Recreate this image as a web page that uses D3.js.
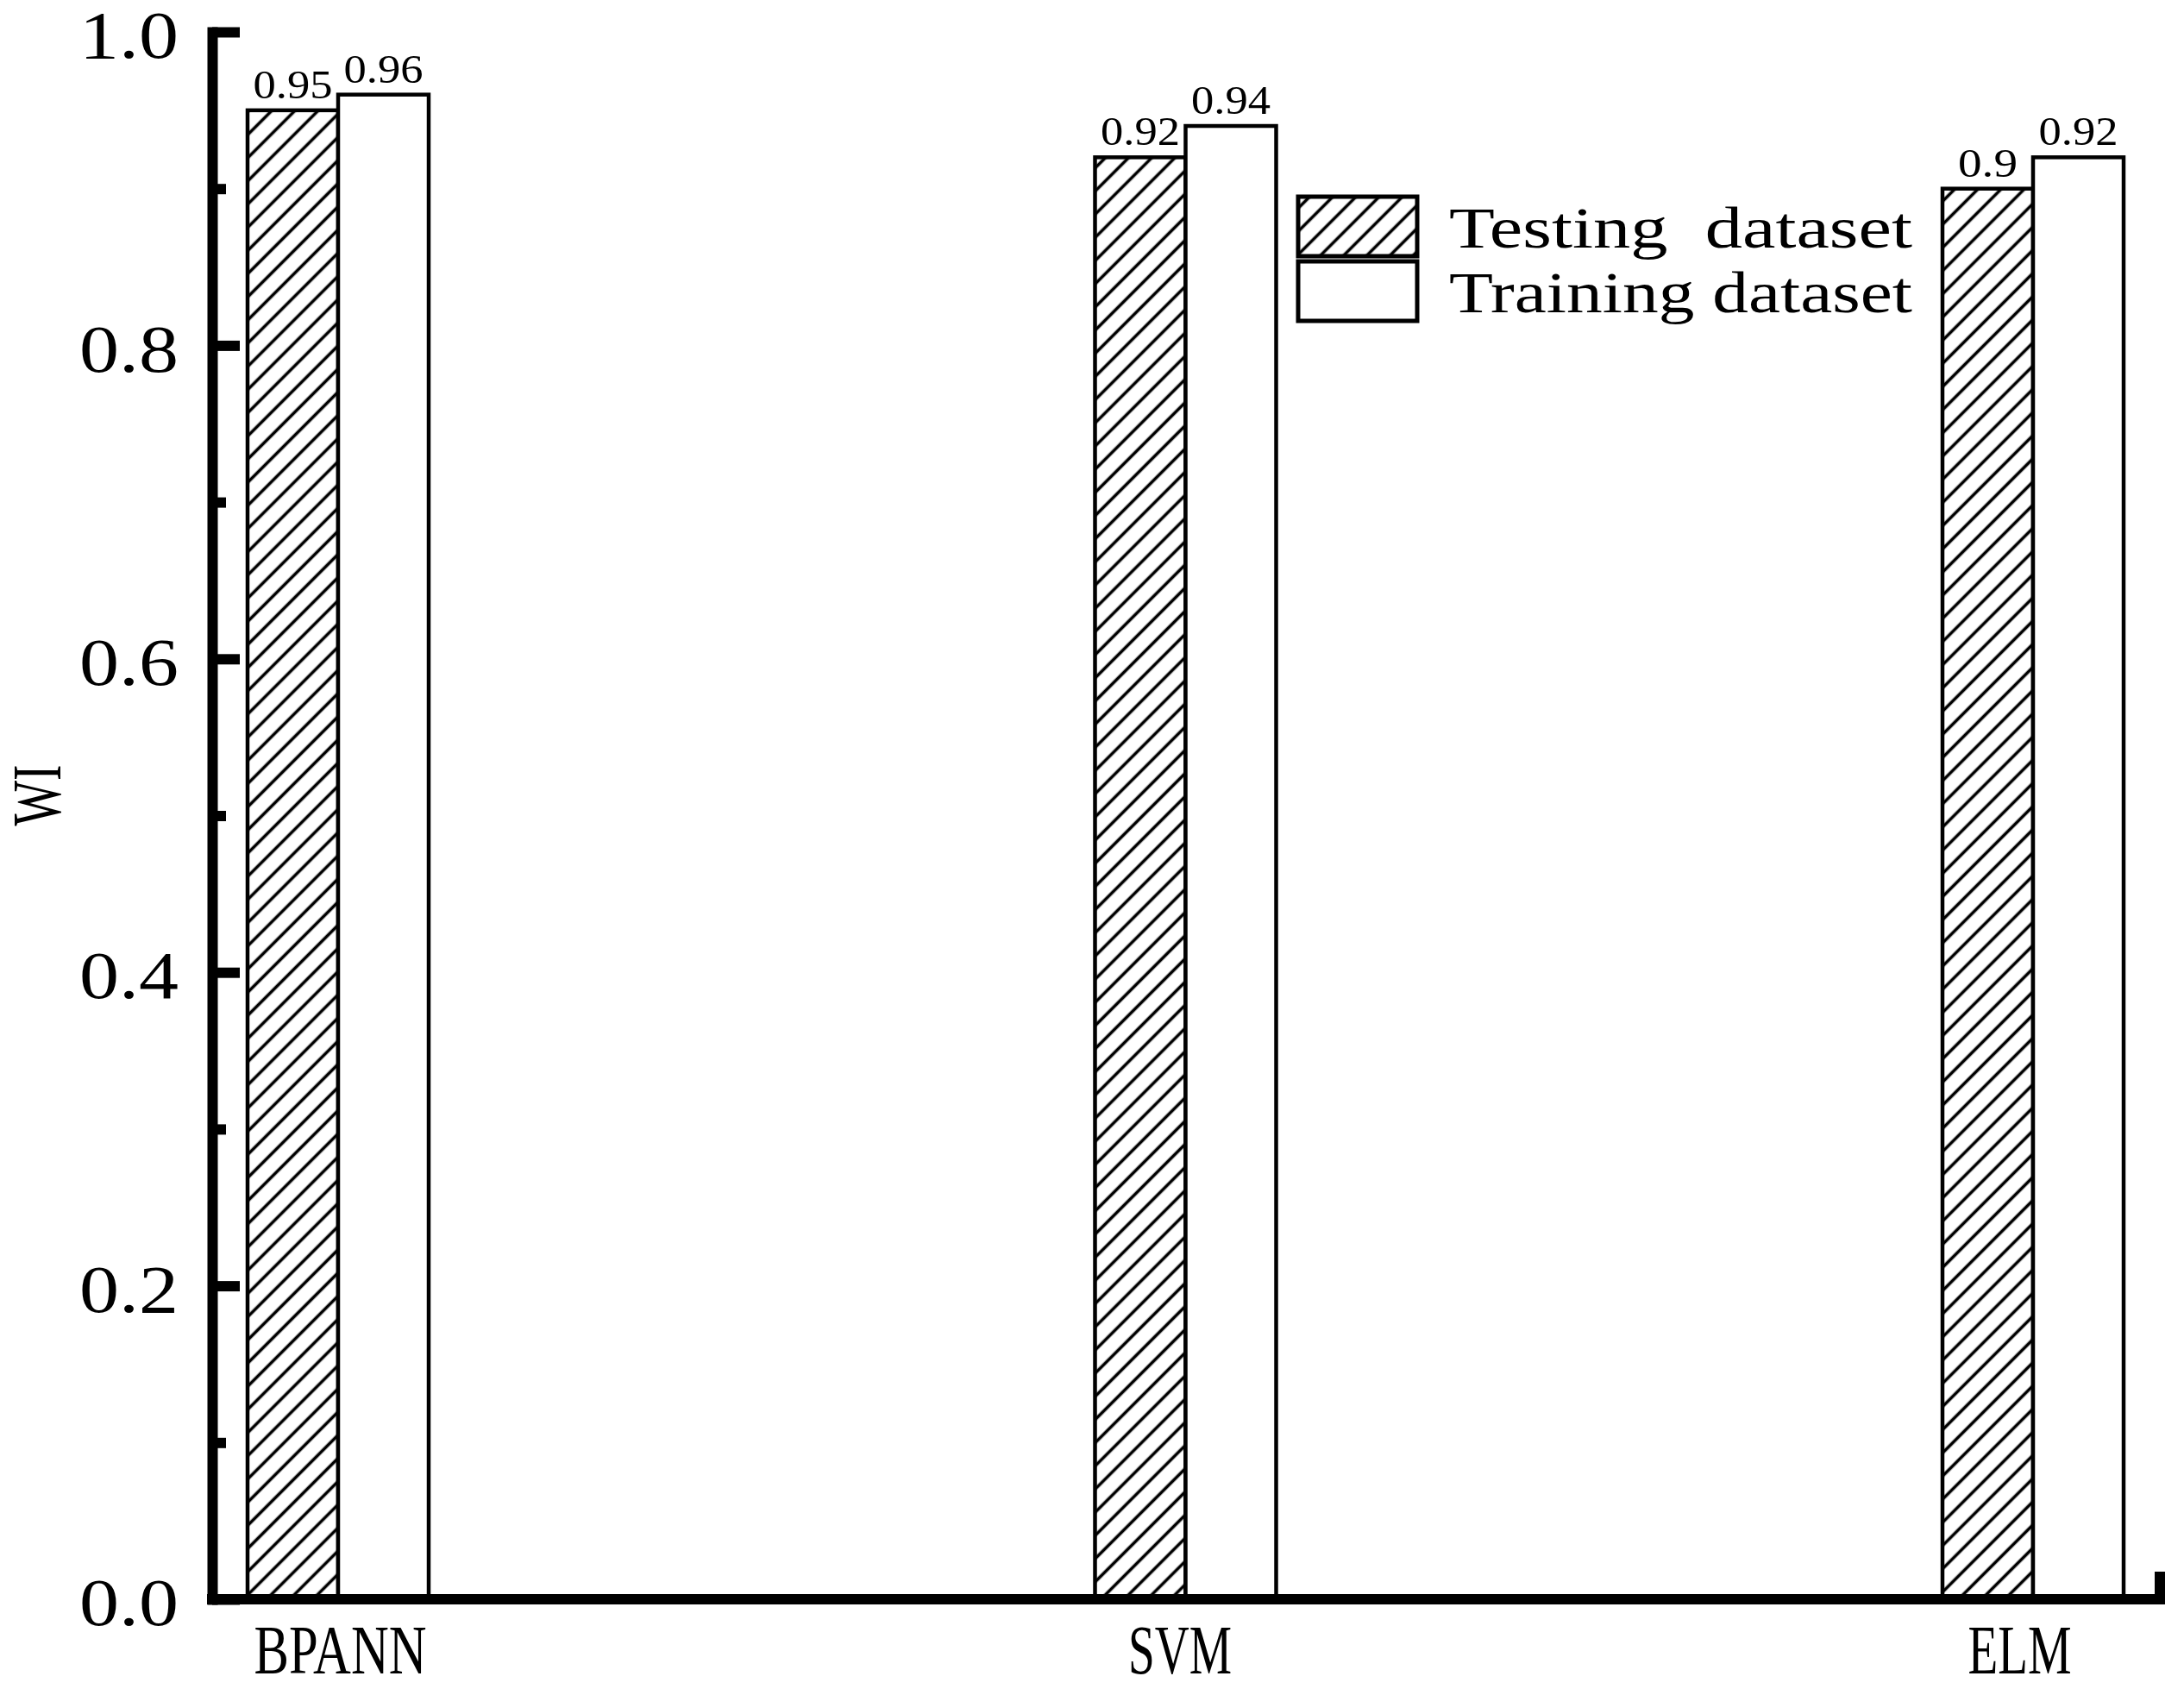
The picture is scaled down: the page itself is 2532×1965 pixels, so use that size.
<!DOCTYPE html>
<html>
<head>
<meta charset="utf-8">
<script src="https://cdn.jsdelivr.net/npm/d3@7"></script>
<style>
  html, body { margin: 0; padding: 0; background: #fff; }
  svg text { font-family: "Liberation Serif", "DejaVu Serif", serif; fill: #000; }
</style>
</head>
<body>
<div id="chart"></div>
<script>
// Data
const categories = ['BPANN', 'SVM', 'ELM'];
const testingValues = [0.95, 0.92, 0.90];
const trainingValues = [0.96, 0.94, 0.92];
const valueLabels = {
    testing: ['0.95', '0.92', '0.9'],
    training: ['0.96', '0.94', '0.92']
};
const seriesNames = ['Testing  dataset', 'Training dataset'];
const yMajorTicks = [0, 0.2, 0.4, 0.6, 0.8, 1.0];
const yMinorTicks = [0.1, 0.3, 0.5, 0.7, 0.9];
const yTitle = 'WI';

const W = 2532, H = 1965;
const axisLeftX = 246, axisRightX = 2504;
const barW = 105;

const svg = d3.select('#chart').append('svg')
    .attr('width', W)
    .attr('height', H);

svg.append('rect').attr('width', W).attr('height', H).attr('fill', '#fff');

// Hatch pattern ("/" lines)
const defs = svg.append('defs');
defs.append('pattern')
    .attr('id', 'hatch')
    .attr('patternUnits', 'userSpaceOnUse')
    .attr('width', 19)
    .attr('height', 19)
    .attr('patternTransform', 'rotate(45)')
    .append('line')
    .attr('x1', 9.5).attr('y1', 0)
    .attr('x2', 9.5).attr('y2', 19)
    .attr('stroke', '#000')
    .attr('stroke-width', 3.6);

const y = d3.scaleLinear().domain([0, 1]).range([1854, 37]);
const x = d3.scalePoint().domain(categories).range([392, 2357]);
// category text sits slightly left of the bar pairs in the original
const xLabel = d3.scalePoint().domain(categories).range([394, 2341]);

// Bars
const rows = categories.map((c, i) => ({
    cat: c,
    test: testingValues[i],
    train: trainingValues[i],
    testLabel: valueLabels.testing[i],
    trainLabel: valueLabels.training[i]
}));

const bars = svg.append('g').attr('class', 'bars');

bars.selectAll('rect.test')
    .data(rows)
    .enter().append('rect')
    .attr('class', 'test')
    .attr('x', d => x(d.cat) - barW)
    .attr('y', d => y(d.test))
    .attr('width', barW)
    .attr('height', d => y(0) - y(d.test))
    .attr('fill', 'url(#hatch)')
    .attr('stroke', '#000')
    .attr('stroke-width', 4.5);

bars.selectAll('rect.train')
    .data(rows)
    .enter().append('rect')
    .attr('class', 'train')
    .attr('x', d => x(d.cat))
    .attr('y', d => y(d.train))
    .attr('width', barW)
    .attr('height', d => y(0) - y(d.train))
    .attr('fill', '#fff')
    .attr('stroke', '#000')
    .attr('stroke-width', 4.5);

// Value labels
bars.selectAll('text.testLbl')
    .data(rows)
    .enter().append('text')
    .attr('class', 'testLbl')
    .attr('x', d => x(d.cat) - barW / 2)
    .attr('y', d => y(d.test) - 14)
    .attr('text-anchor', 'middle')
    .attr('font-size', 46)
    .attr('textLength', d => d.testLabel.length * 23)
    .attr('lengthAdjust', 'spacingAndGlyphs')
    .text(d => d.testLabel);

bars.selectAll('text.trainLbl')
    .data(rows)
    .enter().append('text')
    .attr('class', 'trainLbl')
    .attr('x', d => x(d.cat) + barW / 2)
    .attr('y', d => y(d.train) - 14)
    .attr('text-anchor', 'middle')
    .attr('font-size', 46)
    .attr('textLength', d => d.trainLabel.length * 23)
    .attr('lengthAdjust', 'spacingAndGlyphs')
    .text(d => d.trainLabel);

// Y axis: major ticks pointing inward
const yAxis = svg.append('g')
    .attr('transform', `translate(${axisLeftX},0)`)
    .call(d3.axisLeft(y)
        .tickValues(yMajorTicks)
        .tickFormat(d3.format('.1f'))
        .tickSizeInner(-32)
        .tickSizeOuter(0)
        .tickPadding(39));
yAxis.select('.domain')
    .attr('stroke-width', 12)
    .attr('stroke-linecap', 'square');
yAxis.selectAll('.tick line').attr('stroke-width', 12);
yAxis.selectAll('.tick text')
    .attr('font-size', 78)
    .attr('dy', '0.38em')
    .attr('font-family', '"Liberation Serif", serif')
    .attr('textLength', 115)
    .attr('lengthAdjust', 'spacingAndGlyphs');

// Y axis minor ticks
const yMinor = svg.append('g')
    .attr('transform', `translate(${axisLeftX},0)`)
    .call(d3.axisLeft(y)
        .tickValues(yMinorTicks)
        .tickFormat('')
        .tickSizeInner(-16)
        .tickSizeOuter(0));
yMinor.select('.domain').remove();
yMinor.selectAll('.tick line').attr('stroke-width', 12);

// X axis line with end tick
svg.append('path')
    .attr('d', `M${axisLeftX},${y(0)}H${axisRightX}V${y(0) - 26}`)
    .attr('fill', 'none')
    .attr('stroke', '#000')
    .attr('stroke-width', 12)
    .attr('stroke-linecap', 'square');

// Category labels
const xAxis = svg.append('g')
    .attr('transform', `translate(0,${y(0)})`)
    .call(d3.axisBottom(xLabel).tickSize(0).tickPadding(29));
xAxis.select('.domain').remove();
xAxis.selectAll('.tick text')
    .attr('font-size', 80)
    .attr('font-family', '"Liberation Serif", serif')
    .attr('textLength', d => d.length * 40)
    .attr('lengthAdjust', 'spacingAndGlyphs');

// Y title
svg.append('text')
    .attr('transform', `translate(70,922) rotate(-90)`)
    .attr('text-anchor', 'middle')
    .attr('font-size', 80)
    .attr('textLength', 71)
    .attr('lengthAdjust', 'spacingAndGlyphs')
    .text(yTitle);

// Legend
const legend = svg.append('g').attr('class', 'legend');
const legendFills = ['url(#hatch)', '#fff'];
const legendRows = legend.selectAll('g')
    .data(seriesNames)
    .enter().append('g')
    .attr('transform', (d, i) => `translate(1505,${228 + i * 75})`);
legendRows.append('rect')
    .attr('width', 138)
    .attr('height', 69)
    .attr('fill', (d, i) => legendFills[i])
    .attr('stroke', '#000')
    .attr('stroke-width', 5);
legendRows.append('text')
    .attr('x', 175)
    .attr('y', 59)
    .attr('font-size', 67)
    .style('white-space', 'pre')
    .attr('textLength', 537)
    .attr('lengthAdjust', 'spacingAndGlyphs')
    .text(d => d);
</script>
</body>
</html>
